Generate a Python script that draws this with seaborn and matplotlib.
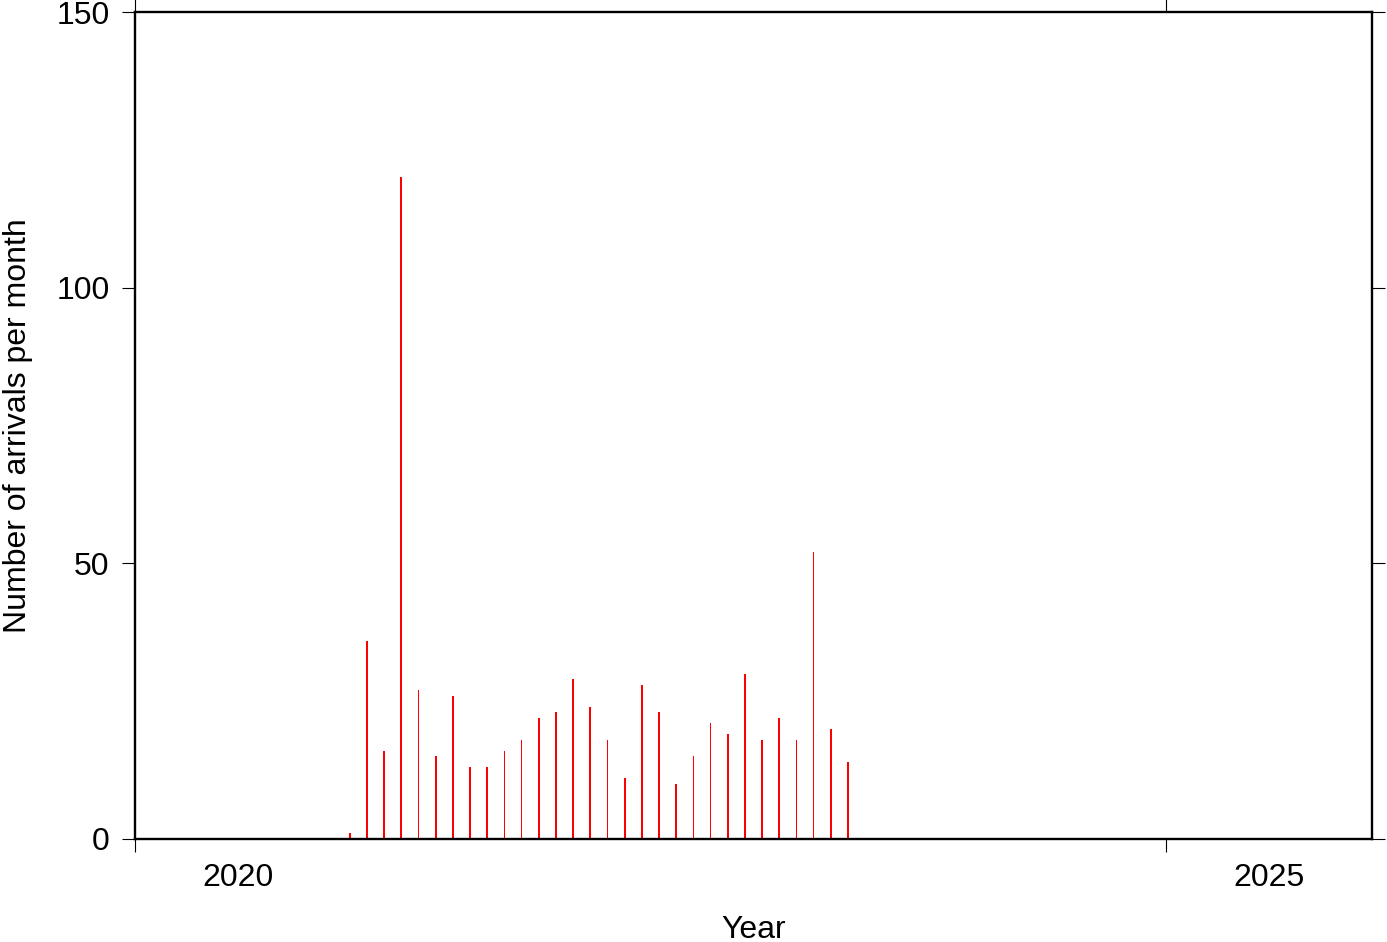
import matplotlib
matplotlib.use("Agg")
import matplotlib.pyplot as plt
import seaborn as sns
import pandas as pd

# monthly arrival counts, Jan 2021 .. Jun 2023
years = [2021] * 12 + [2022] * 12 + [2023] * 6
months = list(range(1, 13)) + list(range(1, 13)) + list(range(1, 7))
counts = [1, 36, 16, 120, 27, 15, 26, 13, 13, 16, 18, 22,
          23, 29, 24, 18, 11, 28, 23, 10, 15, 21, 19, 30,
          18, 22, 18, 52, 20, 14]

x_ticks = [2020, 2025]
y_ticks = [0, 50, 100, 150]

df = pd.DataFrame({"year": years, "month": months, "count": counts})
# bar sits in the middle of its month
df["t"] = df["year"] + (df["month"] - 0.5) / 12

sns.set_style("white")
plt.rcParams["font.family"] = ["Liberation Sans", "DejaVu Sans"]
plt.rcParams["text.color"] = "black"
plt.rcParams["axes.labelcolor"] = "black"
plt.rcParams["xtick.color"] = "black"
plt.rcParams["ytick.color"] = "black"

fig = plt.figure(figsize=(13.87, 9.42), dpi=100)
ax = fig.add_axes([135 / 1387, (942 - 839) / 942, (1372 - 135) / 1387, (839 - 12) / 942])

sns.barplot(data=df, x="t", y="count", native_scale=True, width=0.1,
            color="red", saturation=1, linewidth=0, ax=ax)

ax.set_xlim(2020, 2026)
ax.set_ylim(0, 150)

ax.set_yticks(y_ticks)
ax.set_yticklabels([str(v) for v in y_ticks])
ax.set_xticks(x_ticks)
ax.set_xticklabels([])
ax.set_xticks([v + 0.5 for v in x_ticks], minor=True)
ax.set_xticklabels([str(v) for v in x_ticks], minor=True)

ax.tick_params(axis="both", which="major", direction="out", length=9.4, width=0.8,
               labelsize=23, color="black", labelcolor="black", top=True, right=True,
               bottom=True, left=True)
ax.tick_params(axis="y", pad=9)
ax.tick_params(axis="x", which="minor", length=0, labelsize=23, labelcolor="black", pad=17)

for s in ax.spines.values():
    s.set_linewidth(1.7)
    s.set_color("black")

ax.set_xlabel("Year", fontsize=23, labelpad=16)
ax.set_ylabel("Number of arrivals per month", fontsize=23, labelpad=17)

fig.savefig("out.png", dpi=100)
